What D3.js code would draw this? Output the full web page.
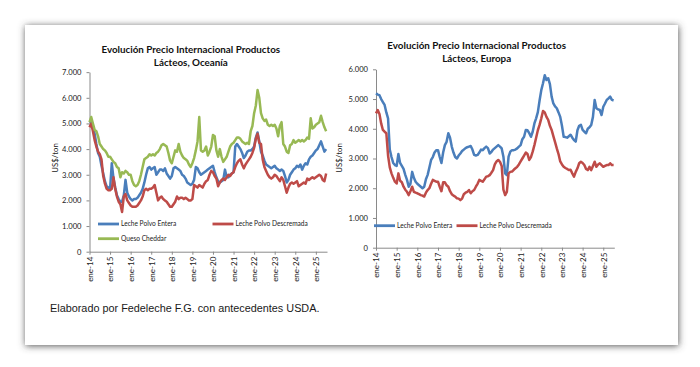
<!DOCTYPE html>
<html><head><meta charset="utf-8">
<script src="https://cdn.jsdelivr.net/npm/d3@7"></script>
<style>body{margin:0;background:#fff}svg{display:block}</style>
</head><body>
<svg id="c" width="700" height="367"></svg>
<script>
// ---- categories (monthly, Jan 2014 .. Jul 2025) ----
const yearTickIndex = [0,12,24,36,48,60,72,84,96,108,120,132];
const yearLabels = ["ene-14","ene-15","ene-16","ene-17","ene-18","ene-19","ene-20","ene-21","ene-22","ene-23","ene-24","ene-25"];

// ---- Oceania (thousand US$/ton) ----
const ocEntera = [
5.10,5.05,4.90,4.60,4.20,3.85,3.70,3.35,3.05,2.75,2.55,2.50,
2.45,3.45,2.85,2.50,2.20,2.05,1.95,1.95,2.20,2.80,2.30,2.15,
2.05,2.00,2.05,2.05,2.10,2.20,2.30,2.45,2.70,3.00,3.25,3.30,
3.20,3.25,3.30,3.00,3.10,3.20,3.20,3.15,3.25,3.05,2.95,2.85,
2.95,3.25,3.30,3.25,3.20,3.15,3.00,2.95,2.85,2.70,2.65,2.60,
2.65,2.80,3.30,3.25,3.10,3.00,3.05,3.10,3.15,3.20,3.25,3.30,
3.35,3.10,2.90,2.75,2.70,2.75,2.80,3.20,2.90,2.90,3.00,3.05,
3.10,4.10,4.20,4.10,4.00,3.85,3.65,3.75,3.90,3.95,3.95,4.00,
4.10,4.45,4.65,4.30,3.90,3.75,3.55,3.40,3.35,3.30,3.25,3.30,
3.35,3.25,3.20,3.15,3.20,3.15,2.95,2.70,2.80,3.00,3.10,3.20,
3.25,3.35,3.30,3.40,3.20,3.35,3.45,3.40,3.60,3.70,3.75,3.85,
3.95,4.00,4.15,4.30,4.10,3.90,4.00];
const ocDescremada = [
4.85,5.00,4.70,4.35,4.10,3.90,3.80,3.60,2.95,2.65,2.45,2.40,
2.40,2.45,2.90,2.45,2.15,1.95,1.85,1.55,2.15,2.25,2.00,1.90,
1.80,1.75,1.75,1.75,1.80,1.90,2.00,2.15,2.40,2.45,2.40,2.45,
2.45,2.50,2.60,2.30,2.00,2.10,2.15,2.05,2.00,1.95,1.85,1.75,
1.75,1.85,1.95,2.15,2.05,2.10,2.10,2.05,2.10,2.05,2.00,2.00,
2.05,2.60,2.55,2.50,2.60,2.55,2.50,2.65,2.75,2.80,3.00,3.15,
3.10,2.95,2.85,2.55,2.70,2.80,2.85,2.80,2.90,3.00,2.95,3.05,
3.10,3.30,3.45,3.55,3.60,3.40,3.25,3.40,3.50,3.60,3.70,3.85,
4.05,4.40,4.60,4.25,4.20,3.60,3.30,3.15,3.00,2.90,2.85,2.90,
3.00,2.95,2.85,2.75,2.90,2.80,2.55,2.30,2.50,2.65,2.70,2.65,
2.70,2.75,2.55,2.60,2.65,2.70,2.65,2.85,2.80,2.85,2.90,2.85,
2.90,2.95,3.00,2.95,2.80,2.75,3.05];
const ocCheddar = [
5.05,5.25,5.00,4.75,4.70,4.50,4.20,4.10,4.00,3.95,3.85,3.70,
3.70,3.60,3.50,3.45,3.30,3.25,2.90,3.10,3.05,3.15,3.10,3.00,
3.00,2.75,2.60,2.55,2.60,2.75,3.00,3.30,3.60,3.65,3.70,3.80,
3.75,3.80,3.75,3.85,3.90,4.00,4.15,4.20,4.15,4.10,3.85,3.55,
3.45,3.70,3.95,3.90,4.20,3.90,3.75,3.65,3.60,3.55,3.40,3.30,
3.45,3.65,3.95,4.30,5.25,3.95,3.90,3.95,4.10,3.75,3.90,4.10,
4.55,4.50,3.95,3.70,4.00,3.70,3.50,3.60,3.70,3.90,4.10,4.20,
4.25,4.35,4.45,4.45,4.40,4.30,4.25,4.20,4.25,4.20,4.70,4.90,
5.40,5.70,6.30,6.00,5.40,5.20,5.10,5.15,4.95,4.90,4.95,4.90,
4.95,4.80,4.50,4.90,5.05,4.20,4.10,3.90,3.85,4.15,4.20,4.35,
4.25,4.30,4.35,4.30,4.35,4.30,4.35,4.45,4.40,5.20,4.80,4.85,
4.95,5.00,5.05,5.30,5.05,4.85,4.70];

// ---- Europe (thousand US$/ton) ----
const euEntera = [
5.19,5.15,5.13,5.00,4.90,4.80,4.55,4.35,3.30,3.05,2.85,2.78,
2.75,3.15,2.85,2.75,2.65,2.45,2.28,2.05,2.15,2.55,2.35,2.22,
2.15,2.10,2.05,2.00,2.05,2.30,2.45,2.70,2.95,3.05,3.20,3.28,
3.28,3.05,2.85,3.20,3.45,3.56,3.85,3.70,3.40,3.20,3.05,3.00,
3.10,3.17,3.25,3.30,3.35,3.38,3.40,3.42,3.30,3.12,3.10,3.12,
3.20,3.30,3.28,3.35,3.40,3.35,3.17,3.22,3.30,3.35,3.40,3.45,
3.40,3.34,3.06,2.50,2.44,3.06,3.23,3.28,3.28,3.30,3.34,3.40,
3.45,3.65,3.73,3.96,3.95,3.85,3.73,3.90,4.18,4.35,4.56,4.95,
5.30,5.53,5.80,5.64,5.70,5.50,5.08,4.85,4.75,4.69,4.55,4.40,
4.10,3.73,3.72,3.70,3.75,3.80,3.70,3.62,3.57,3.95,4.10,4.13,
3.96,3.90,3.85,4.00,4.05,4.13,4.40,4.97,4.69,4.65,4.63,4.46,
4.74,4.85,4.97,5.02,5.08,4.97,4.95];
const euDescremada = [
4.52,4.63,4.50,4.18,3.96,3.90,3.85,3.10,2.70,2.50,2.35,2.22,
2.16,2.50,2.25,2.20,2.05,1.95,1.88,1.77,1.90,2.05,1.88,1.85,
1.83,1.80,1.77,1.75,1.72,1.85,1.94,2.00,2.15,2.28,2.25,2.22,
2.22,2.05,1.90,2.20,2.20,2.10,2.05,1.90,1.80,1.75,1.72,1.66,
1.65,1.60,1.65,1.80,1.85,1.88,1.94,1.83,1.90,1.94,2.05,2.15,
2.28,2.25,2.22,2.30,2.39,2.40,2.44,2.52,2.61,2.80,2.90,2.95,
2.89,2.75,1.95,1.77,1.88,2.50,2.55,2.56,2.62,2.67,2.72,2.80,
2.90,3.00,3.10,3.20,3.15,2.95,3.05,3.23,3.45,3.70,3.95,4.13,
4.35,4.60,4.55,4.40,4.30,4.10,3.96,3.75,3.55,3.34,3.15,2.90,
2.80,2.72,2.68,2.65,2.61,2.62,2.50,2.39,2.55,2.67,2.84,2.89,
2.85,2.78,2.65,2.61,2.72,2.61,2.75,2.89,2.72,2.80,2.84,2.78,
2.72,2.75,2.78,2.78,2.84,2.78,2.78];

// ---- y ticks ----
const ocYTicks = [0,1,2,3,4,5,6,7];
const ocYLabels = ["0","1.000","2.000","3.000","4.000","5.000","6.000","7.000"];
const euYTicks = [0,1,2,3,4,5,6];
const euYLabels = ["0","1.000","2.000","3.000","4.000","5.000","6.000"];

const seriesNames = ["Leche Polvo Entera","Leche Polvo Descremada","Queso Cheddar"];
const colors = ["#4a7ebb","#be4b48","#98b954"];

const svg = d3.select("#c");
const defs = svg.append("defs");
const f = defs.append("filter").attr("id","sh").attr("x","-5%").attr("y","-8%").attr("width","110%").attr("height","116%");
f.append("feDropShadow").attr("dx",0.5).attr("dy",1).attr("stdDeviation",3.6).attr("flood-color","#444").attr("flood-opacity",0.9);
svg.append("rect").attr("x",25).attr("y",25).attr("width",653).attr("height",320).attr("fill","#fff").attr("filter","url(#sh)");

const FONT = "Lato, 'Open Sans', sans-serif";

function drawChart(cfg){
  const x = d3.scaleLinear().domain([0, cfg.xMax]).range([cfg.x0, cfg.x1]);
  const y = d3.scaleLinear().domain([0, cfg.yMax]).range([cfg.y0, cfg.y1]);
  const g = svg.append("g");

  // title
  const t = g.append("text").attr("text-anchor","middle").attr("font-family",FONT)
    .attr("font-weight","bold").attr("font-size",9.8).attr("fill","#111");
  cfg.title.forEach((line,i)=>{
    t.append("tspan").attr("x",cfg.titleX).attr("y",cfg.titleY + i*13).text(line);
  });

  // y axis
  const ya = g.append("g").attr("transform",`translate(${cfg.x0},0)`)
    .call(d3.axisLeft(y).tickValues(cfg.yTicks).tickFormat((d,i)=>cfg.yLabels[i]).tickSize(3).tickSizeOuter(0).tickPadding(5));
  // x axis
  const xa = g.append("g").attr("transform",`translate(0,${cfg.y0})`)
    .call(d3.axisBottom(x).tickValues(yearTickIndex).tickFormat((d,i)=>yearLabels[i]).tickSize(3).tickSizeOuter(0));
  [ya,xa].forEach(a=>{
    a.select(".domain").attr("stroke","#8a8a8a");
    a.selectAll(".tick line").attr("stroke","#8a8a8a");
    a.selectAll("text").attr("font-family",FONT).attr("fill","#222");
  });
  ya.selectAll("text").attr("font-size",7.6);
  xa.selectAll("text").attr("font-size",8).attr("transform","rotate(-90)")
    .attr("text-anchor","end").attr("x",-5).attr("y",0).attr("dy","0.35em");

  // y title
  g.append("text").attr("transform",`translate(${cfg.yTitleX},158) rotate(-90)`)
    .attr("text-anchor","middle").attr("font-family",FONT).attr("font-size",7.8).attr("fill","#222").text("US$/ton");

  // lines
  const line = d3.line().x((d,i)=>x(i)).y(d=>y(d));
  cfg.series.forEach((s,k)=>{
    g.append("path").datum(s).attr("d",line).attr("fill","none")
      .attr("stroke",colors[k]).attr("stroke-width",2.5).attr("stroke-linejoin","round");
  });

  // legend
  cfg.legend.forEach((L,k)=>{
    g.append("line").attr("x1",L[0]).attr("x2",L[0]+21).attr("y1",L[1]).attr("y2",L[1])
      .attr("stroke",colors[k]).attr("stroke-width",2.8);
    g.append("text").attr("x",L[0]+23).attr("y",L[1]).attr("dy","0.35em")
      .attr("font-family",FONT).attr("font-size",6.6).attr("fill","#222").text(seriesNames[k]);
  });
}

drawChart({
  x0:89.5, x1:327, y0:251.7, y1:72.15, xMax:138.5, yMax:7,
  yTicks:ocYTicks, yLabels:ocYLabels,
  title:["Evolución Precio Internacional Productos","Lácteos, Oceanía"], titleX:190.8, titleY:52.5,
  yTitleX:58,
  series:[ocEntera, ocDescremada, ocCheddar],
  legend:[[98,224],[212.5,224],[98,238.7]]
});
drawChart({
  x0:376, x1:614.3, y0:247.7, y1:69.3, xMax:138.4, yMax:6,
  yTicks:euYTicks, yLabels:euYLabels,
  title:["Evolución Precio Internacional Productos","Lácteos, Europa"], titleX:476.7, titleY:48.8,
  yTitleX:342,
  series:[euEntera, euDescremada],
  legend:[[374,225.7],[456.5,225.7]]
});

svg.append("text").attr("x",50).attr("y",312.3).attr("font-family","'Liberation Sans', Arial, sans-serif")
  .attr("font-size",10.85).attr("fill","#1a1a1a").text("Elaborado por Fedeleche F.G. con antecedentes USDA.");
</script>
</body></html>
